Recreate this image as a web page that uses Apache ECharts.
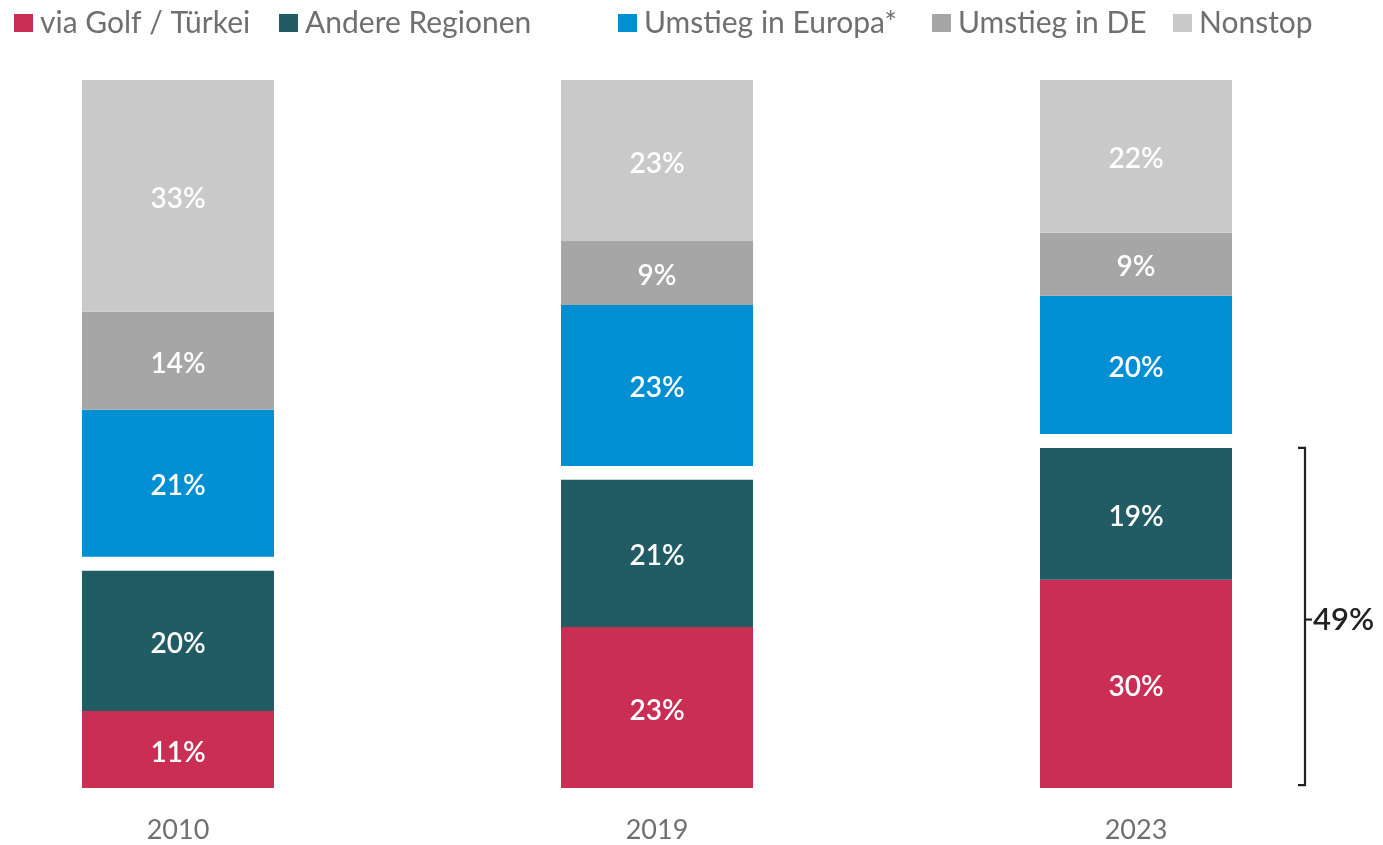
<!DOCTYPE html>
<html><head><meta charset="utf-8">
<script src="https://cdn.jsdelivr.net/npm/echarts@6/dist/echarts.min.js"></script>
<style>html,body{margin:0;padding:0;background:#fff}#c{width:1383px;height:845px}</style>
</head><body><div id="c"></div>
<script>
const categories = ['2010', '2019', '2023'];
const golf = [11.1, 23.2, 30.0];
const andere = [20.2, 21.2, 19.0];
const europa = [21.2, 23.2, 19.9];
const umstiegDE = [14.1, 9.2, 9.1];
const nonstop = [33.4, 23.2, 22.0];
const gapValues = [2, 2, 2];
const bracketLabel = '49%';
const bracketIndex = 2;

const FONT = 'Lato, "Noto Sans", sans-serif';
const names = ['via Golf / Türkei', 'Andere Regionen', 'Umstieg in Europa*', 'Umstieg in DE', 'Nonstop'];
const colors = ['#CB2E55', '#215C65', '#008FD3', '#A6A6A6', '#C9C9C9'];
const legendLeft = [14, 279, 618, 932, 1173];

const chart = echarts.init(document.getElementById('c'), null, {renderer: 'canvas'});

const label = {
  show: true, position: 'inside', color: '#fff', fontSize: 28, fontWeight: 600, fontFamily: FONT,
  offset: [0, 3],
  formatter: p => Math.round(p.value) + '%'
};
function bar(name, data, color) {
  return {name, type: 'bar', stack: 's', data, barWidth: 192, itemStyle: {color}, label, silent: true};
}

const series = [
  bar(names[0], golf, colors[0]),
  bar(names[1], andere, colors[1]),
  {name: 'gap', type: 'bar', stack: 's', data: gapValues, barWidth: 192, itemStyle: {color: 'rgba(0,0,0,0)'}, silent: true},
  bar(names[2], europa, colors[2]),
  bar(names[3], umstiegDE, colors[3]),
  bar(names[4], nonstop, colors[4]),
  {
    type: 'custom', silent: true, z: 10,
    data: [[bracketIndex, 0.4, golf[bracketIndex] + andere[bracketIndex]]],
    renderItem: function (params, api) {
      const b = api.coord([api.value(0), api.value(1)]);
      const t = api.coord([api.value(0), api.value(2)]);
      const x = b[0] + 96 + 73;
      const mid = (b[1] + t[1]) / 2 + 3;
      const st = {stroke: '#222', lineWidth: 2.2, fill: null};
      return {type: 'group', children: [
        {type: 'polyline', shape: {points: [[x - 7, t[1]], [x, t[1]], [x, b[1]], [x - 7, b[1]]]}, style: st},
        {type: 'line', shape: {x1: x, y1: mid, x2: x + 7, y2: mid}, style: st},
        {type: 'text', style: {text: bracketLabel, x: x + 8, y: mid, verticalAlign: 'middle', align: 'left',
          fill: '#222', fontSize: 31, fontWeight: 600, fontFamily: FONT}}
      ]};
    }
  }
];

const legends = names.map((n, i) => ({
  data: [n], left: legendLeft[i], top: 8, padding: 0, icon: 'rect', itemWidth: 19, itemHeight: 18,
  selectedMode: false,
  textStyle: {color: '#6f6f6f', fontSize: 30, fontFamily: FONT, padding: [0, 0, 0, 2]}
}));

chart.setOption({
  animation: false,
  legend: legends,
  grid: {left: 178, right: 247, top: 80, bottom: 57},
  xAxis: {
    type: 'category', data: categories, boundaryGap: false,
    axisLine: {show: false}, axisTick: {show: false}, splitLine: {show: false},
    axisLabel: {color: '#6f6f6f', fontSize: 27, fontFamily: FONT, margin: 29}
  },
  yAxis: {type: 'value', min: 0, max: 102, show: false, splitLine: {show: false}},
  series
});
</script></body></html>
